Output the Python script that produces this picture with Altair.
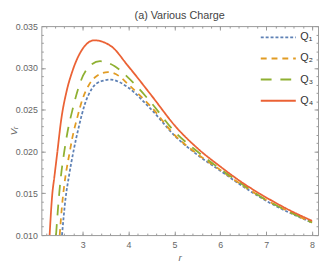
import altair as alt
import pandas as pd

series_names = ["Q₁", "Q₂", "Q₃", "Q₄"]
colors = ["#5E81B5", "#E19C24", "#8FB032", "#EB6235"]
dashes = [[3, 2], [6, 5], [11, 9], [1, 0]]

q1_r = [2.55, 2.63, 2.70, 2.81, 2.91, 3.05, 3.20, 3.40, 3.62, 3.80, 3.98, 4.50, 5.04, 5.50, 6.00, 6.50, 7.00, 7.50, 8.00]
q1_v = [0.0100, 0.0145, 0.0170, 0.0203, 0.0228, 0.0257, 0.0275, 0.0284, 0.0286, 0.0283, 0.0277, 0.0250, 0.0217, 0.0196, 0.0177, 0.0158, 0.0141, 0.0127, 0.0115]

q2_r = [2.50, 2.55, 2.60, 2.72, 2.77, 2.88, 3.00, 3.13, 3.30, 3.55, 3.80, 3.98, 4.50, 5.00, 5.50, 6.00, 6.50, 7.00, 7.50, 8.00]
q2_v = [0.0100, 0.0135, 0.0160, 0.0200, 0.0215, 0.0240, 0.0263, 0.0279, 0.0290, 0.0295, 0.0290, 0.0281, 0.0253, 0.0220, 0.0197, 0.0178, 0.0159, 0.0142, 0.0128, 0.0115]

q3_r = [2.42, 2.49, 2.52, 2.60, 2.69, 2.77, 2.95, 3.15, 3.38, 3.70, 3.98, 4.50, 5.00, 5.50, 6.00, 6.50, 7.00, 7.50, 8.00]
q3_v = [0.0100, 0.0150, 0.0167, 0.0200, 0.0229, 0.0248, 0.0283, 0.0302, 0.0308, 0.0302, 0.0289, 0.0258, 0.0224, 0.0200, 0.0179, 0.0160, 0.0142, 0.0128, 0.0115]

q4_r = [2.28, 2.34, 2.38, 2.45, 2.53, 2.65, 2.77, 2.99, 3.25, 3.62, 3.98, 4.50, 5.04, 5.50, 6.00, 6.50, 7.00, 7.50, 8.00]
q4_v = [0.0100, 0.0150, 0.0168, 0.0200, 0.0237, 0.0272, 0.0295, 0.0322, 0.0333, 0.0326, 0.0303, 0.0267, 0.0229, 0.0204, 0.0182, 0.0162, 0.0145, 0.0130, 0.0117]

x_major = [3, 4, 5, 6, 7, 8]
x_minor = [round(2.2 + 0.2 * i, 1) for i in range(30)]
y_major = [0.010, 0.015, 0.020, 0.025, 0.030, 0.035]
y_minor = [round(0.010 + 0.001 * i, 3) for i in range(26)]

rows = []
for name, rs, vs in [(series_names[0], q1_r, q1_v), (series_names[1], q2_r, q2_v),
                     (series_names[2], q3_r, q3_v), (series_names[3], q4_r, q4_v)]:
    for r, v in zip(rs, vs):
        rows.append({"r": r, "v": v, "series": name})
df = pd.DataFrame(rows)

W, H = 282, 213
GREY = "#999999"
TXT = "#666666"

xscale = alt.Scale(domain=[2.1, 8.13], nice=False, zero=False)
yscale = alt.Scale(domain=[0.010, 0.035], nice=False, zero=False)

base = alt.Chart(df)

legend = alt.Legend(title=None, orient="none", legendX=230, legendY=0,
                    symbolType="M-1.7,0H1.7", symbolSize=441, symbolStrokeWidth=2,
                    labelFontSize=11, labelColor="#333333", labelOffset=11, rowPadding=4.5)

lines = base.mark_line(strokeWidth=1.8, interpolate="monotone", clip=True).encode(
    x=alt.X("r:Q", scale=xscale,
            axis=alt.Axis(values=x_major, format="d", tickSize=0, domain=False, grid=False,
                          labelPadding=6, labelFontSize=9, labelColor=TXT,
                          title="r", titleFontStyle="italic", titleFontWeight="normal",
                          titleFontSize=10, titleColor=TXT, titlePadding=3)),
    y=alt.Y("v:Q", scale=yscale,
            axis=alt.Axis(values=y_major, format=".3f", tickSize=0, domain=False, grid=False,
                          labelPadding=4, labelFontSize=9, labelColor=TXT,
                          title="Vᵣ", titleFontStyle="italic", titleFontWeight="normal",
                          titleFontSize=10, titleColor=TXT, titleX=-28, titleBaseline="middle")),
    color=alt.Color("series:N", scale=alt.Scale(domain=series_names, range=colors), legend=legend),
    strokeDash=alt.StrokeDash("series:N", scale=alt.Scale(domain=series_names, range=dashes), legend=legend),
)


def tick_layer(xorient, yorient, xvals, yvals, size):
    return base.mark_line(strokeOpacity=0).encode(
        x=alt.X("r:Q", scale=xscale,
                axis=alt.Axis(orient=xorient, offset=-H, values=xvals, tickSize=size, labels=False,
                              domain=False, grid=False, title=None, tickColor=GREY)),
        y=alt.Y("v:Q", scale=yscale,
                axis=alt.Axis(orient=yorient, offset=-W, values=yvals, tickSize=size, labels=False,
                              domain=False, grid=False, title=None, tickColor=GREY)),
    )


chart = alt.layer(
    tick_layer("top", "right", x_major, y_major, 4),
    tick_layer("top", "right", x_minor, y_minor, 2),
    tick_layer("bottom", "left", x_major, y_major, 4),
    tick_layer("bottom", "left", x_minor, y_minor, 2),
    lines,
).resolve_axis(x="independent", y="independent").properties(
    width=W, height=H,
    title=alt.Title("(a) Various Charge", fontSize=11, fontWeight="normal", color="#444444", offset=1),
    autosize=alt.AutoSizeParams(type="none"),
    padding={"left": 34, "top": 16, "right": 1, "bottom": 26},
).configure(font="Liberation Sans").configure_view(stroke=GREY, strokeWidth=1)

chart.save("out.html", embed_options={"renderer": "svg", "actions": False})
